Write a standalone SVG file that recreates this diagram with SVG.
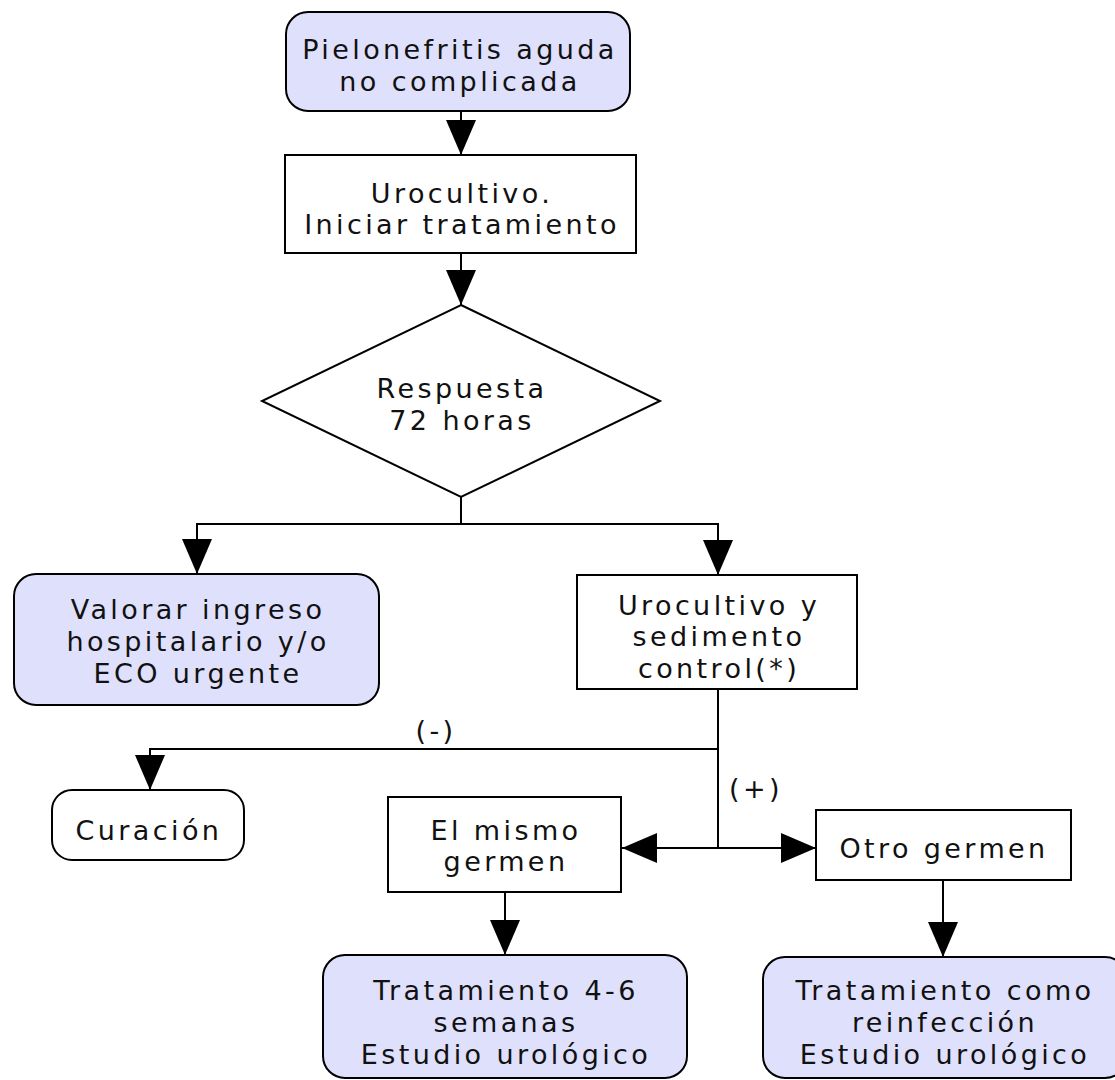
<svg xmlns="http://www.w3.org/2000/svg" width="1115" height="1080" viewBox="0 0 1115 1080">
<style>
.t{font-family:"DejaVu Sans","Liberation Sans",sans-serif;font-size:27px;letter-spacing:3.4px;fill:#111;text-anchor:middle}
.term{fill:#dfe0fb;stroke:#000;stroke-width:2}
.proc{fill:#fff;stroke:#000;stroke-width:2}
.c{fill:none;stroke:#000;stroke-width:2}
</style>
<defs>
<marker id="ah" markerUnits="userSpaceOnUse" markerWidth="36" markerHeight="32" viewBox="0 0 36 32" refX="35" refY="16" orient="auto">
<path d="M0,1 L35,16 L0,31 z" fill="#000"/>
</marker>
</defs>
<rect width="1115" height="1080" fill="#fff"/>
<g id="connectors">
<path class="c" d="M461,111 V155" marker-end="url(#ah)"/>
<path class="c" d="M461,253 V305" marker-end="url(#ah)"/>
<path class="c" d="M461,497 V524 H197 V574" marker-end="url(#ah)"/>
<path class="c" d="M461,524 H718 V575" marker-end="url(#ah)"/>
<path class="c" d="M718,689 V749 H150 V790" marker-end="url(#ah)"/>
<path class="c" d="M718,749 V848 H622" marker-end="url(#ah)"/>
<path class="c" d="M718,848 H816" marker-end="url(#ah)"/>
<path class="c" d="M505,892 V955" marker-end="url(#ah)"/>
<path class="c" d="M943,880 V957" marker-end="url(#ah)"/>
<text class="t" x="436" y="740">(-)</text>
<text class="t" x="756" y="798">(+)</text>
</g>
<g id="n1">
<rect class="term" x="286" y="12" width="344" height="99" rx="22"/>
<text class="t" x="460" y="59">Pielonefritis aguda</text>
<text class="t" x="460" y="91">no complicada</text>
</g>
<g id="n2">
<rect class="proc" x="285" y="155" width="351" height="98"/>
<text class="t" x="462" y="203">Urocultivo.</text>
<text class="t" x="462" y="234">Iniciar tratamiento</text>
</g>
<g id="n3">
<polygon class="proc" points="461,305 660,401 461,497 262,401"/>
<text class="t" x="462" y="398">Respuesta</text>
<text class="t" x="462" y="430">72 horas</text>
</g>
<g id="n4">
<rect class="term" x="14" y="574" width="365" height="131" rx="22"/>
<text class="t" x="198" y="619">Valorar ingreso</text>
<text class="t" x="198" y="651">hospitalario y/o</text>
<text class="t" x="198" y="683">ECO urgente</text>
</g>
<g id="n5">
<rect class="proc" x="577" y="575" width="280" height="114"/>
<text class="t" x="719" y="615">Urocultivo y</text>
<text class="t" x="719" y="646">sedimento</text>
<text class="t" x="719" y="678">control(*)</text>
</g>
<g id="n6">
<rect class="term" x="52" y="790" width="192" height="70" rx="20" style="fill:#fff"/>
<text class="t" x="149" y="840">Curación</text>
</g>
<g id="n7">
<rect class="proc" x="388" y="797" width="233" height="95"/>
<text class="t" x="506" y="840">El mismo</text>
<text class="t" x="506" y="871">germen</text>
</g>
<g id="n8">
<rect class="proc" x="816" y="810" width="255" height="70"/>
<text class="t" x="944" y="858">Otro germen</text>
</g>
<g id="n9">
<rect class="term" x="323" y="955" width="364" height="123" rx="22"/>
<text class="t" x="506" y="1000">Tratamiento 4-6</text>
<text class="t" x="506" y="1032">semanas</text>
<text class="t" x="506" y="1064">Estudio urológico</text>
</g>
<g id="n10">
<rect class="term" x="763" y="957" width="364" height="121" rx="22"/>
<text class="t" x="945" y="1000">Tratamiento como</text>
<text class="t" x="945" y="1032">reinfección</text>
<text class="t" x="945" y="1064">Estudio urológico</text>
</g>
</svg>
